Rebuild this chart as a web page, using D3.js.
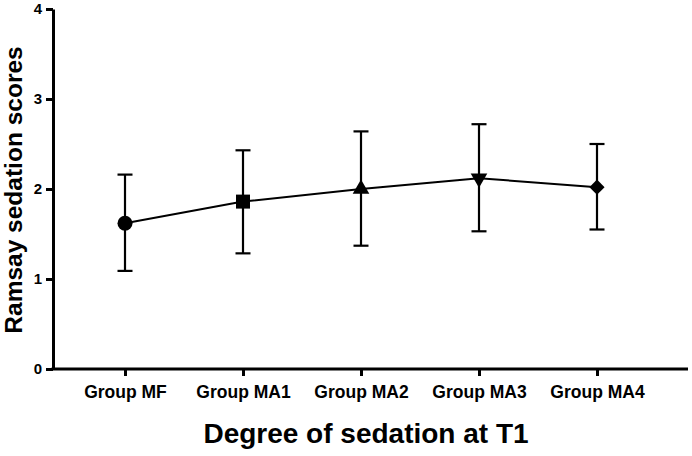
<!DOCTYPE html>
<html>
<head>
<meta charset="utf-8">
<script src="https://cdn.jsdelivr.net/npm/d3@7"></script>
<style>
  body { margin: 0; background: #fff; }
  svg text { font-family: "Liberation Sans", Arial, Helvetica, sans-serif; font-weight: bold; fill: #000; }
</style>
</head>
<body>
<svg id="chart" width="692" height="456"></svg>
<script>
const groups = ["Group MF", "Group MA1", "Group MA2", "Group MA3", "Group MA4"];
const means = [1.62, 1.86, 2.00, 2.12, 2.02];
const upper = [2.16, 2.43, 2.64, 2.72, 2.50];
const lower = [1.09, 1.285, 1.37, 1.53, 1.55];
const shapes = ["circle", "square", "triangle", "triangleDown", "diamond"];
const yTicks = [0, 1, 2, 3, 4];

const svg = d3.select("#chart");

const x = d3.scalePoint()
  .domain(groups)
  .range([125, 597]);

const y = d3.scaleLinear()
  .domain([0, 4])
  .range([369, 9]);

const data = groups.map((g, i) => ({ g, m: means[i], hi: upper[i], lo: lower[i], shape: shapes[i] }));

// axes
const yAxis = svg.append("g")
  .attr("transform", "translate(53,0)")
  .call(d3.axisLeft(y).tickValues(yTicks).tickFormat(d3.format("d")).tickSize(7).tickSizeOuter(0).tickPadding(4));
yAxis.select(".domain").attr("stroke-width", 3);
yAxis.selectAll(".tick line").attr("stroke-width", 3);
yAxis.selectAll(".tick text").style("font-size", "15px");

const xAxis = svg.append("g")
  .attr("transform", "translate(0,369)")
  .call(d3.axisBottom(x).tickSize(7).tickSizeOuter(0).tickPadding(10));
xAxis.select(".domain").attr("d", "M51.5,0H688").attr("stroke-width", 3);
xAxis.selectAll(".tick line").attr("stroke-width", 3);
xAxis.selectAll(".tick text").style("font-size", "17.5px");

// connecting line
svg.append("path")
  .datum(data)
  .attr("fill", "none")
  .attr("stroke", "#000")
  .attr("stroke-width", 2)
  .attr("d", d3.line().x(d => x(d.g)).y(d => y(d.m)));

// error bars
const eb = svg.append("g").attr("stroke", "#000").attr("stroke-width", 2.2);
eb.selectAll(".whisker").data(data).join("line")
  .attr("x1", d => x(d.g)).attr("x2", d => x(d.g))
  .attr("y1", d => y(d.hi)).attr("y2", d => y(d.lo));
eb.selectAll(".capHi").data(data).join("line")
  .attr("x1", d => x(d.g) - 7.5).attr("x2", d => x(d.g) + 7.5)
  .attr("y1", d => y(d.hi)).attr("y2", d => y(d.hi));
eb.selectAll(".capLo").data(data).join("line")
  .attr("x1", d => x(d.g) - 7.5).attr("x2", d => x(d.g) + 7.5)
  .attr("y1", d => y(d.lo)).attr("y2", d => y(d.lo));

// markers
const symbolFor = {
  circle: { type: d3.symbolCircle, size: 177, rot: 0 },
  square: { type: d3.symbolSquare, size: 196, rot: 0 },
  triangle: { type: d3.symbolTriangle, size: 120, rot: 0 },
  triangleDown: { type: d3.symbolTriangle, size: 120, rot: 180 },
  diamond: { type: d3.symbolSquare, size: 115, rot: 45 }
};

svg.append("g").selectAll("path").data(data).join("path")
  .attr("fill", "#000")
  .attr("transform", d => `translate(${x(d.g)},${y(d.m)}) rotate(${symbolFor[d.shape].rot})`)
  .attr("d", d => d3.symbol().type(symbolFor[d.shape].type).size(symbolFor[d.shape].size)());

// titles
svg.append("text")
  .attr("transform", "translate(22,190) rotate(-90)")
  .attr("text-anchor", "middle")
  .style("font-size", "24.5px")
  .text("Ramsay sedation scores");

svg.append("text")
  .attr("x", 366)
  .attr("y", 443)
  .attr("text-anchor", "middle")
  .style("font-size", "28px")
  .text("Degree of sedation at T1");
</script>
</body>
</html>
